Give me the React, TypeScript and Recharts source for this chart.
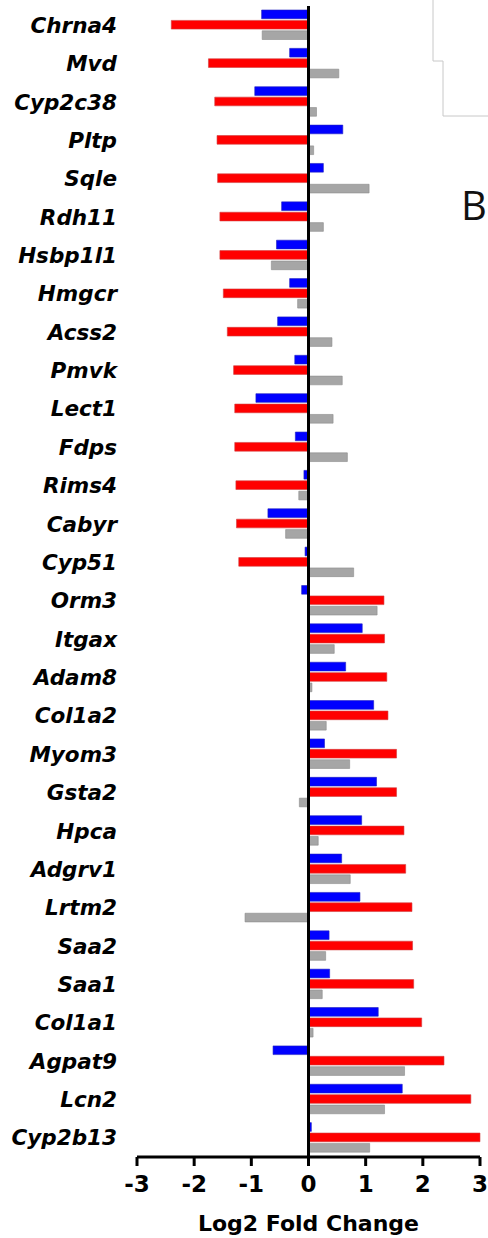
import React from 'react';
import { BarChart, Bar, XAxis, YAxis, ReferenceLine } from 'recharts';

const genes = [
  'Chrna4', 'Mvd', 'Cyp2c38', 'Pltp', 'Sqle', 'Rdh11', 'Hsbp1l1', 'Hmgcr', 'Acss2', 'Pmvk',
  'Lect1', 'Fdps', 'Rims4', 'Cabyr', 'Cyp51', 'Orm3', 'Itgax', 'Adam8', 'Col1a2', 'Myom3',
  'Gsta2', 'Hpca', 'Adgrv1', 'Lrtm2', 'Saa2', 'Saa1', 'Col1a1', 'Agpat9', 'Lcn2', 'Cyp2b13',
];

const blueValues = [
  -0.82, -0.33, -0.94, 0.6, 0.26, -0.47, -0.56, -0.33, -0.54, -0.24,
  -0.92, -0.23, -0.08, -0.71, -0.06, -0.12, 0.94, 0.65, 1.14, 0.28,
  1.19, 0.93, 0.58, 0.9, 0.36, 0.37, 1.22, -0.62, 1.64, 0.05,
];

const redValues = [
  -2.4, -1.75, -1.64, -1.6, -1.59, -1.55, -1.55, -1.49, -1.42, -1.31,
  -1.29, -1.29, -1.27, -1.26, -1.22, 1.32, 1.33, 1.37, 1.39, 1.54,
  1.54, 1.67, 1.7, 1.81, 1.82, 1.84, 1.98, 2.37, 2.84, 3.0,
];

const grayValues = [
  -0.81, 0.53, 0.14, 0.09, 1.06, 0.26, -0.65, -0.19, 0.41, 0.59,
  0.43, 0.68, -0.17, -0.4, 0.79, 1.2, 0.45, 0.06, 0.31, 0.72,
  -0.16, 0.17, 0.73, -1.11, 0.3, 0.24, 0.08, 1.68, 1.33, 1.07,
];

const xTicks = [-3, -2, -1, 0, 1, 2, 3];

const data = genes.map((gene, i) => ({
  gene,
  blue: blueValues[i],
  red: redValues[i],
  gray: grayValues[i],
}));

const FONT = "'DejaVu Sans', sans-serif";

export default function App() {
  return (
    <div style={{ position: 'absolute', left: 0, top: 0, width: 488, height: 1238, background: '#fff' }}>
      <BarChart
        width={488}
        height={1238}
        data={data}
        layout="vertical"
        margin={{ top: 6, right: 8, bottom: 0, left: 0 }}
        barSize={8.7}
        barGap={1.7}
      >
        <XAxis
          type="number"
          domain={[-3, 3]}
          ticks={xTicks}
          interval={0}
          height={81}
          axisLine={{ stroke: '#000', strokeWidth: 3 }}
          tickLine={{ stroke: '#000', strokeWidth: 3 }}
          tickSize={9}
          tickMargin={10}
          tick={{ fill: '#000', fontSize: 23, fontWeight: 'bold', fontFamily: FONT }}
          label={{
            value: 'Log2 Fold Change',
            position: 'insideBottom',
            offset: 7,
            fill: '#000',
            fontSize: 22,
            fontWeight: 'bold',
            fontFamily: FONT,
          }}
        />
        <YAxis
          type="category"
          dataKey="gene"
          width={137}
          interval={0}
          axisLine={false}
          tickLine={false}
          tickSize={0}
          tickMargin={20}
          tick={{ fill: '#000', fontSize: 21.5, fontWeight: 'bold', fontStyle: 'italic', fontFamily: FONT }}
        />
        <Bar dataKey="blue" fill="#0000ff" stroke="#2020c0" strokeWidth={0.6} isAnimationActive={false} />
        <Bar dataKey="red" fill="#ff0000" stroke="#d04040" strokeWidth={0.6} isAnimationActive={false} />
        <Bar dataKey="gray" fill="#a6a6a6" stroke="#8c8c8c" strokeWidth={0.6} isAnimationActive={false} />
        <ReferenceLine x={0} stroke="#000" strokeWidth={3} />
      </BarChart>
      <svg
        width={488}
        height={1238}
        style={{ position: 'absolute', left: 0, top: 0, pointerEvents: 'none' }}
      >
        <path d="M433 0 V61 H443 V116 H488" fill="none" stroke="#c8c8c8" strokeWidth={1} />
        <text x={461} y={220} fontSize={40} fontFamily="'Open Sans', sans-serif" fill="#111">
          B
        </text>
      </svg>
    </div>
  );
}
